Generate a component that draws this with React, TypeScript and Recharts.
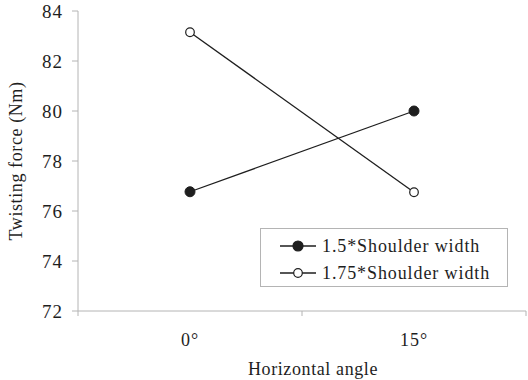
import { LineChart, Line, XAxis, YAxis } from "recharts";

// angles on the x axis, one value per series per angle
const angles = ["0°", "15°"];
const narrowGrip = [76.77, 80.0];
const wideGrip = [83.15, 76.75];
const yTicks = [72, 74, 76, 78, 80, 82, 84];

const seriesNames = ["1.5*Shoulder width", "1.75*Shoulder width"];

const data = angles.map((a, i) => ({
  pos: i + 0.5,
  angle: a,
  narrow: narrowGrip[i],
  wide: wideGrip[i],
}));

const FONT = "'Liberation Serif', 'DejaVu Serif', serif";
const AXIS = "#b4b4b4";
const INK = "#1e1e1e";

// band edges get a tick mark, band centers get the angle label
function AngleTick(props: any) {
  const { x, y, payload } = props;
  const v = payload.value as number;
  if (Number.isInteger(v)) {
    return <line x1={x} x2={x} y1={y} y2={y + 5} stroke={AXIS} strokeWidth={1} />;
  }
  const label = angles[Math.floor(v)];
  return (
    <text x={x} y={y + 35} textAnchor="middle" fill={INK} fontSize={18} style={{ fontFamily: FONT }} letterSpacing={1}>
      {label}
    </text>
  );
}

function GripLegend() {
  const rows = [
    { name: seriesNames[0], fill: INK, r: 5 },
    { name: seriesNames[1], fill: "#fff", r: 4.3 },
  ];
  return (
    <div
      style={{
        position: "absolute",
        left: 260,
        top: 228,
        width: 246,
        height: 57,
        border: `1px solid ${AXIS}`,
        background: "#fff",
        fontFamily: FONT,
        fontSize: 18,
        color: INK,
        letterSpacing: 0.9,
      }}
    >
      {rows.map((r, i) => (
        <div key={r.name} style={{ position: "absolute", left: 19, top: 6 + i * 27, height: 22, display: "flex", alignItems: "center" }}>
          <svg width={36} height={12} style={{ marginRight: 6 }}>
            <line x1={0} x2={36} y1={6} y2={6} stroke={INK} strokeWidth={1.3} />
            <circle cx={18} cy={6} r={r.r} fill={r.fill} stroke={INK} strokeWidth={1.2} />
          </svg>
          <span style={{ whiteSpace: "nowrap" }}>{r.name}</span>
        </div>
      ))}
    </div>
  );
}

export default function App() {
  return (
    <div style={{ position: "absolute", left: 0, top: 0, width: 528, height: 380, background: "#fff", fontFamily: FONT }}>
      <LineChart
        width={528}
        height={380}
        data={data}
        margin={{ top: 11, right: 2, bottom: 24, left: 18 }}
        style={{ fontFamily: FONT }}
      >
        <XAxis
          dataKey="pos"
          type="number"
          domain={[0, 2]}
          ticks={[0, 0.5, 1, 1.5, 2]}
          interval={0}
          tick={<AngleTick />}
          tickLine={false}
          tickSize={0}
          tickMargin={0}
          height={45}
          axisLine={{ stroke: AXIS, strokeWidth: 1 }}
          label={{
            value: "Horizontal angle",
            position: "insideBottom",
            offset: -19,
            dx: 11,
            fill: INK,
            fontSize: 18,
            style: { fontFamily: FONT },
            letterSpacing: 0.6,
          }}
        />
        <YAxis
          domain={[72, 84]}
          ticks={yTicks}
          width={60}
          tickSize={6}
          tickMargin={9}
          tickLine={{ stroke: AXIS }}
          axisLine={{ stroke: AXIS, strokeWidth: 1 }}
          tick={{ fill: INK, fontSize: 19, style: { fontFamily: FONT }, letterSpacing: 1 }}
          label={{
            value: "Twisting force (Nm)",
            angle: -90,
            position: "insideLeft",
            offset: -2,
            style: { textAnchor: "middle", fontFamily: FONT },
            fill: INK,
            fontSize: 18,
            letterSpacing: 0.6,
          }}
        />
        <Line
          dataKey="narrow"
          name={seriesNames[0]}
          stroke={INK}
          strokeWidth={1.3}
          dot={{ r: 5, fill: INK, stroke: INK, strokeWidth: 1 }}
          isAnimationActive={false}
        />
        <Line
          dataKey="wide"
          name={seriesNames[1]}
          stroke={INK}
          strokeWidth={1.3}
          dot={{ r: 4.3, fill: "#fff", stroke: INK, strokeWidth: 1.2 }}
          isAnimationActive={false}
        />
      </LineChart>
      <GripLegend />
    </div>
  );
}
